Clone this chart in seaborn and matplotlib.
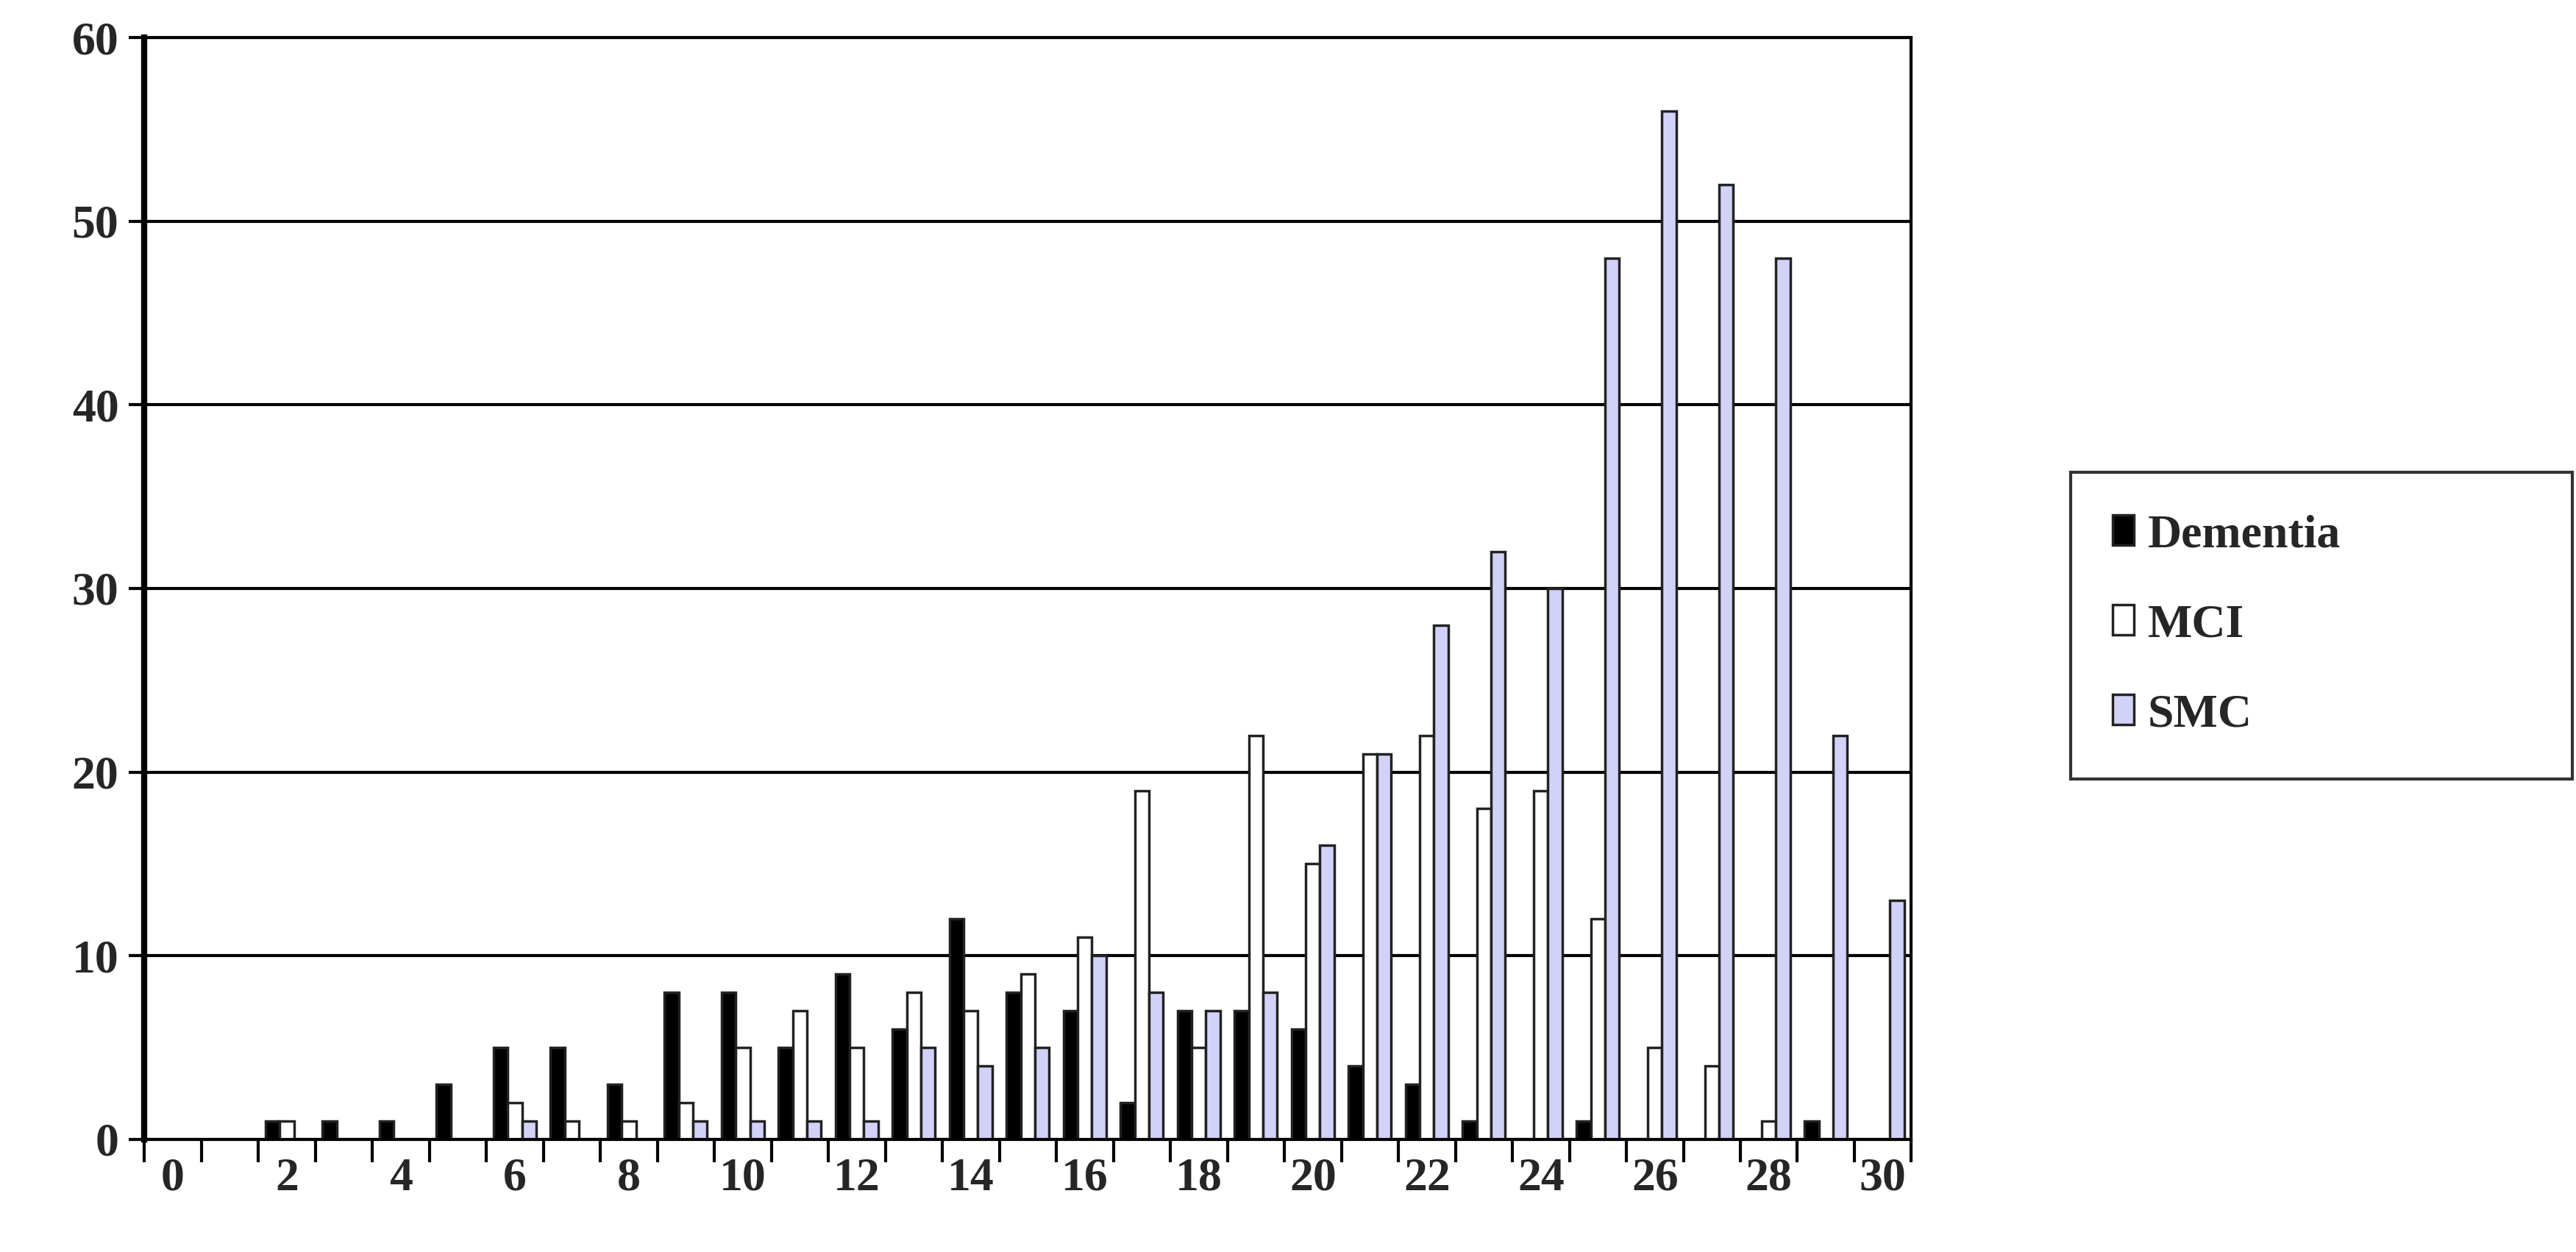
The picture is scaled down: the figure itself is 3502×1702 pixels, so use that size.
import matplotlib
matplotlib.use("Agg")
import matplotlib.pyplot as plt
import seaborn as sns
import pandas as pd
import numpy as np

scores = list(range(31))
dementia = [0,0,1,1,1,3,5,5,3,8,8,5,9,6,12,8,7,2,7,7,6,4,3,1,0,1,0,0,0,1,0]
mci = [0,0,1,0,0,0,2,1,1,2,5,7,5,8,7,9,11,19,5,22,15,21,22,18,19,12,5,4,1,0,0]
smc = [0,0,0,0,0,0,1,0,0,1,1,1,1,5,4,5,10,8,7,8,16,21,28,32,30,48,56,52,48,22,13]
groups = ["Dementia", "MCI", "SMC"]
colors = ["#000000", "#ffffff", "#ccccff"]

df = pd.DataFrame({
    "score": scores * 3,
    "value": dementia + mci + smc,
    "group": sum([[g] * len(scores) for g in groups], []),
})

sns.set_theme(style="white")
plt.rcParams['font.family'] = ['Liberation Serif', 'DejaVu Serif']

fig = plt.figure(figsize=(35.02, 17.02), dpi=100)
ax = fig.add_axes([0.056, 0.09, 0.686, 0.88])
sns.barplot(data=df, x="score", y="value", hue="group", palette=colors,
            width=0.75, edgecolor="#222222", linewidth=2.5, ax=ax, legend=True)

ax.set_ylim(0, 60)
ax.set_xlim(-0.5, 30.5)
ax.set_yticks(range(0, 61, 10))
ax.yaxis.grid(True, color="black", linewidth=3)
ax.set_axisbelow(True)
ax.set_xticks(range(0, 31, 2))
ax.set_xticklabels([str(s) for s in range(0, 31, 2)])
ax.set_xticks(np.arange(-0.5, 31, 1), minor=True)
ax.tick_params(axis="x", which="major", length=0, pad=18)
ax.tick_params(axis="x", which="minor", length=22, width=3, color="black", bottom=True)
ax.tick_params(axis="y", length=15, width=3, left=True, color="black", pad=10)
for lab in ax.get_xticklabels() + ax.get_yticklabels():
    lab.set_fontsize(46)
    lab.set_fontweight("bold")
ax.set_xlabel("")
ax.set_ylabel("")
for s in ax.spines.values():
    s.set_color("black")
    s.set_linewidth(3)
ax.spines["left"].set_linewidth(6)

handles, labels = ax.get_legend_handles_labels()
leg = ax.legend(handles, labels, loc="center left",
                bbox_to_anchor=(1.09, 0.328, 0.284, 0.277), mode="expand",
                frameon=True, fancybox=False, edgecolor="black",
                prop={"size": 46, "weight": "bold"}, handlelength=0.45,
                handleheight=0.6, labelspacing=1.0, borderpad=0.9, handletextpad=0.3,
                borderaxespad=0)
leg._legend_box.align = "left"
leg.get_frame().set_linewidth(3)
fig.savefig("out.png", dpi=100, facecolor="white")
